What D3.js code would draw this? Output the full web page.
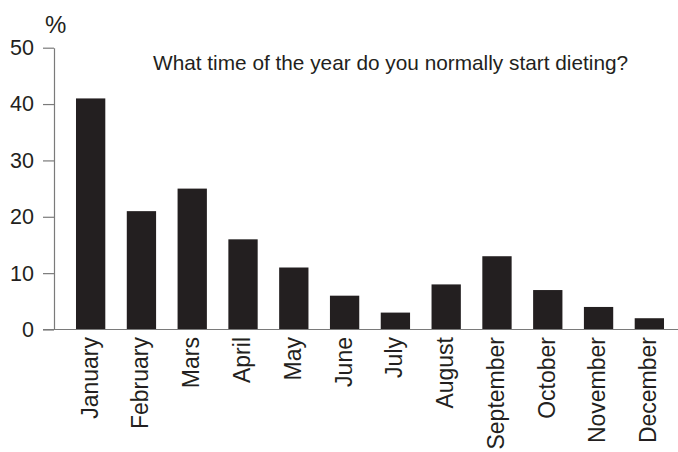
<!DOCTYPE html>
<html>
<head>
<meta charset="utf-8">
<script src="https://cdn.jsdelivr.net/npm/d3@7"></script>
<style>
  body{margin:0;background:#fff;}
  text{font-family:"Liberation Sans",Arial,sans-serif;fill:#231f20;}
</style>
</head>
<body>
<svg id="chart" width="678" height="452"></svg>
<script>
let months=["January","February","Mars","April","May","June","July","August","September","October","November","December"];
let percent=[41,21,25,16,11,6,3,8,13,7,4,2];
let yTicks=[0,10,20,30,40,50];

let svg=d3.select("#chart");

let xScale=d3.scaleBand()
  .domain(months)
  .range([54,686])
  .paddingInner(0.423)
  .paddingOuter(0.433);

let yScale=d3.scaleLinear()
  .domain([0,50])
  .range([329.5,47.7]);

// bars
svg.append("g").selectAll("rect")
  .data(percent)
  .enter().append("rect")
  .attr("x",function(d,i){return xScale(months[i])})
  .attr("y",function(d){return yScale(d)})
  .attr("width",xScale.bandwidth())
  .attr("height",function(d){return yScale(0)-yScale(d)})
  .attr("fill","#231f20");

// y axis
let yAxis=svg.append("g")
  .attr("transform","translate(54,0)")
  .call(d3.axisLeft(yScale).tickValues(yTicks).tickSize(11).tickSizeOuter(0).tickPadding(9));
yAxis.selectAll("path,line").attr("stroke","#7a7a7a").attr("stroke-width",1.2);
yAxis.selectAll("text").attr("font-size",21.5).attr("font-family","Liberation Sans, Arial, sans-serif").attr("fill","#231f20");

// baseline
svg.append("line")
  .attr("x1",43).attr("x2",678)
  .attr("y1",yScale(0)).attr("y2",yScale(0))
  .attr("stroke","#7a7a7a").attr("stroke-width",1.2);

// month labels
svg.append("g").selectAll("text")
  .data(months)
  .enter().append("text")
  .text(function(d){return d})
  .attr("transform",function(d){
    return "translate("+(xScale(d)+xScale.bandwidth()/2)+",337) rotate(-90)";
  })
  .attr("text-anchor","end")
  .attr("dy","0.3em")
  .attr("font-size",23);

// unit and title
svg.append("text").text("%")
  .attr("x",45).attr("y",33)
  .attr("font-size",24);

svg.append("text").text("What time of the year do you normally start dieting?")
  .attr("x",153).attr("y",70)
  .attr("font-size",20.8);
</script>
</body>
</html>
